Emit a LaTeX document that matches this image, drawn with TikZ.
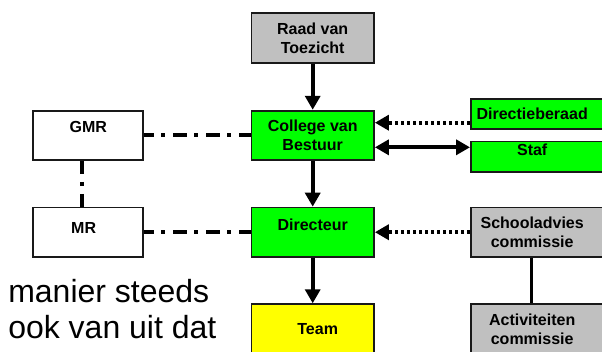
\documentclass[tikz,border=0pt]{standalone}
\usepackage{fontspec}
\setmainfont{Liberation Sans}
\usetikzlibrary{arrows.meta}
\definecolor{boxgreen}{RGB}{0,255,0}
\definecolor{boxgray}{RGB}{192,192,192}
\definecolor{boxyellow}{RGB}{255,255,0}
\newcommand*{\bwd}{92pt}
\newcommand*{\bht}{37pt}
\newcommand*{\swd}{82.5pt}
\newcommand*{\rwd}{112.5pt}
\newcommand*{\rtxt}[1]{\parbox[t]{\bwd}{\centering #1}\hspace*{20.5pt}}

\begin{document}
\begin{tikzpicture}[x=0.75pt, y=-0.75pt,
    font=\fontsize{12pt}{14.25pt}\selectfont\bfseries,
    box/.style={draw=black!90, line width=1.3pt, minimum width=\bwd, minimum height=\bht, align=center, inner sep=0pt},
    sidebox/.style={box, minimum width=\swd},
    rightbox/.style={box, anchor=west, minimum width=\rwd, align=none},
    >={Triangle[length=10.5pt,width=11.25pt]},
    arr/.style={line width=3pt, ->},
    dotarr/.style={arr, dash pattern=on 2.6pt off 1.9pt},
    dashdot/.style={line width=3.2pt, dash pattern=on 10pt off 5.8pt on 3pt off 6pt},
    thinline/.style={line width=2pt},
    bigtext/.style={font=\fontsize{24pt}{27.5pt}\selectfont\mdseries, align=left, inner sep=0pt}]
    \useasboundingbox (0,0) rectangle (602,351);
    \clip (0,0) rectangle (602,351);
    % middle column
    \node [box, fill=boxgray] (raad) at (312.7,38) {Raad van\\Toezicht};
    \node [box, fill=boxgreen] (college) at (312.7,135.3) {College van\\Bestuur};
    \node [box, fill=boxgreen, text depth=11.9pt] (directeur) at (312.7,232.2) {Directeur};
    \node [box, fill=boxyellow] (team) at (312.7,328.8) {\hspace*{7.5pt}Team};
    % left column
    \node [sidebox, fill=white, text depth=13.1pt] (gmr) at (88.3,135.3) {GMR};
    \node [sidebox, fill=white, text depth=7pt] (mr) at (88.3,232.2) {MR\hspace*{7pt}};
    % right column, cut off by the page edge
    \node [rightbox, fill=boxgreen, minimum height=22.5pt] (dirb) at (470,113.7) {\rtxt{Directieberaad}};
    \node [rightbox, fill=boxgreen, minimum height=23pt, text depth=11.2pt] (staf) at (470,156.7) {\rtxt{Staf}};
    \node [rightbox, fill=boxgray] (school) at (470,232.2) {\rtxt{Schooladvies\\commissie}};
    \node [rightbox, fill=boxgray] (activ) at (470,328.8) {\rtxt{Activiteiten\\commissie}};
    % text
    \node [bigtext, anchor=north west] (note) at (8,278.8) {manier steeds\\ook van uit dat};
    % connectors
    \draw [arr] (raad) -- (college);
    \draw [arr] (college) -- (directeur);
    \draw [arr] (directeur) -- (team);
    \coordinate (dbin) at ([yshift=-6.75pt]dirb.west);
    \draw [dotarr] (dbin) -- (dbin -| college.east);
    \coordinate (cs) at ([yshift=-9pt]college.east);
    \draw [arr, <->] (cs) -- (cs -| staf.west);
    \draw [dotarr] (school.west) -- (directeur.east);
    \draw [dashdot, dash phase=3pt] (gmr) -- (college);
    \draw [dashdot, dash phase=3pt] (mr) -- (directeur);
    \draw [dashdot] ([xshift=-5pt]gmr.south) -- ([xshift=-5pt]mr.north);
    \coordinate (sa) at ([xshift=46.3pt]school.south west);
    \draw [thinline] (sa) -- (sa |- activ.north);
\end{tikzpicture}
\end{document}
